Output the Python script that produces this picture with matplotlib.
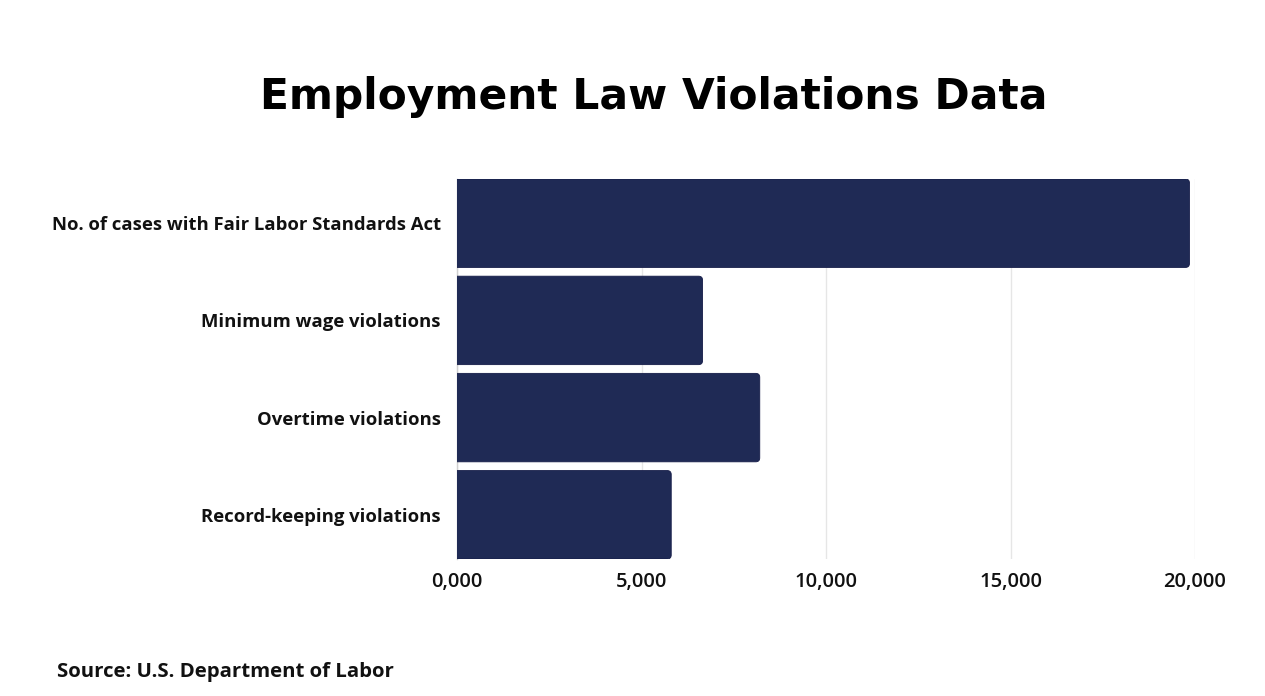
import matplotlib
matplotlib.use("Agg")
import matplotlib.pyplot as plt
from matplotlib.patches import FancyBboxPatch

categories = ["No. of cases with Fair Labor Standards Act",
              "Minimum wage violations",
              "Overtime violations",
              "Record-keeping violations"]
values = [19850, 6650, 8200, 5800]
tick_values = [0, 5000, 10000, 15000, 20000]
tick_labels = ["0,000", "5,000", "10,000", "15,000", "20,000"]

W, H = 1265, 696
fig = plt.figure(figsize=(W / 100, H / 100), dpi=100)
fig.patch.set_facecolor("white")
ax = fig.add_axes([457.3 / W, 1 - 559 / H, (1195 - 457.3) / W, (559 - 179) / H])

bar_h = 0.91
ypos = list(range(len(categories)))
ax.set_xlim(0, 20000)
ax.set_ylim(len(categories) - 1 + bar_h / 2, -bar_h / 2)

# data units per pixel
bbox = ax.get_window_extent()
xpp = 20000 / bbox.width
ypp = (len(categories) - 1 + bar_h) / bbox.height
radius_px = 4
aspect = ypp / xpp
color = "#1f2a55"
for y, v in zip(ypos, values):
    x0 = -radius_px * 3 * xpp
    p = FancyBboxPatch((x0, y - bar_h / 2), v - x0, bar_h,
                       boxstyle=f"round,pad=0,rounding_size={radius_px * xpp}",
                       mutation_aspect=aspect,
                       facecolor=color, edgecolor="#151c48", linewidth=0.6,
                       zorder=3)
    ax.add_patch(p)

ax.set_xticks(tick_values)
ax.set_xticklabels(tick_labels, fontfamily="Open Sans", fontweight="semibold",
                   fontsize=14.5, color="#111111")
ax.set_yticks(ypos)
ax.set_yticklabels(categories, fontfamily="Open Sans", fontweight="bold",
                   fontsize=13.3, color="#111111")
ax.tick_params(axis="both", length=0)
ax.tick_params(axis="y", pad=12)
ax.tick_params(axis="x", pad=9)
ax.grid(axis="x", color="#e6e6e6", linewidth=1, zorder=0)
ax.set_axisbelow(True)
for s in ["top", "right", "bottom"]:
    ax.spines[s].set_visible(False)
ax.spines["left"].set_color("#d0d0d0")
ax.spines["left"].set_linewidth(1)

fig.text(654 / W, 1 - 97 / H, "Employment Law Violations Data",
         ha="center", va="center", fontfamily="DejaVu Sans", fontweight="bold",
         fontsize=30.5, color="black")
fig.text(57 / W, 1 - 672 / H, "Source: U.S. Department of Labor",
         ha="left", va="center", fontfamily="Open Sans", fontweight="bold",
         fontsize=14.7, color="#111111")

fig.savefig("out.png", dpi=100, facecolor="white")
